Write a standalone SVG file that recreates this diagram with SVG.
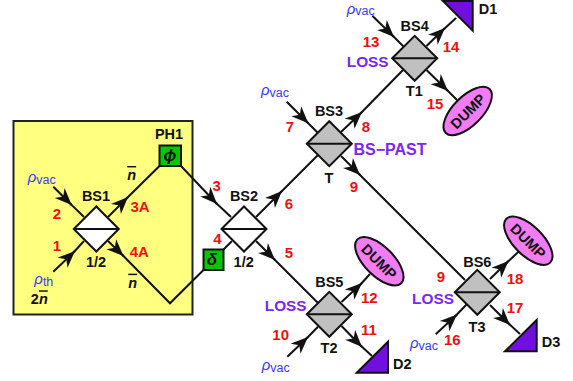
<svg xmlns="http://www.w3.org/2000/svg" width="573" height="381" viewBox="0 0 573 381">
<style>
text{font-family:"Liberation Sans",Arial,sans-serif;font-weight:700;font-size:14.5px;text-anchor:middle;fill:#111}
.r{fill:#f01010;font-size:15px}
.p{fill:#7a28f0;font-size:15.4px}
.v{fill:#3a3af0;font-weight:400;text-anchor:start;font-size:15px}
.b{font-size:12.5px}
.i{font-style:italic}
.g{font-size:17px}
.o{text-decoration:overline}
.c line,.c polyline{stroke:#111;stroke-width:2;fill:none}
.a{marker-end:url(#ah)}
.bw,.bg{stroke:#111;stroke-width:2;stroke-linejoin:miter}
.bw{fill:#fff}.bg{fill:#c0c0c0}
.m{stroke:#111;stroke-width:2}
.ph{fill:#00c800;stroke:#111;stroke-width:2}
.du{fill:#f27cf2;stroke:#111;stroke-width:2}
.de{fill:#7010e0;stroke:#111;stroke-width:2}
</style>
<defs>
<marker id="ah" markerUnits="userSpaceOnUse" markerWidth="20" markerHeight="16" refX="17" refY="8" orient="auto">
<path d="M0,1 L17,8 L0,15 L5,8 Z" fill="#111"/>
</marker>
<g id="dia"><path d="M-22.5,0 L0,-22.5 L22.5,0 L0,22.5 Z"/><line class="m" x1="-22.5" y1="0" x2="22.5" y2="0"/></g>
</defs>
<rect id="box" x="13.5" y="121" width="179" height="193.5" fill="#ffff80" stroke="#222" stroke-width="2"/>
<g id="connectors" class="c">
<line class="a" x1="53.3" y1="186.7" x2="71.7" y2="205"/><line x1="70" y1="203.4" x2="84" y2="217"/>
<line class="a" x1="53.3" y1="271.7" x2="75" y2="251"/><line x1="73" y1="253" x2="84" y2="241"/>
<line class="a" x1="108" y1="217" x2="128" y2="197"/><line x1="126" y1="199" x2="159.5" y2="166"/>
<line class="a" x1="108" y1="241" x2="123.5" y2="256"/><polyline points="122,254.5 170,303.3 203.5,270"/>
<line class="a" x1="181" y1="166" x2="217" y2="204"/><line x1="215" y1="202" x2="231" y2="217"/>
<line x1="223" y1="250" x2="232" y2="241"/>
<line class="a" x1="256" y1="217" x2="282" y2="191"/><line x1="280" y1="193" x2="318" y2="155"/>
<line class="a" x1="256" y1="241" x2="275" y2="260"/><line x1="273" y1="258" x2="318" y2="303"/>
<line class="a" x1="341" y1="132" x2="362" y2="112"/><line x1="360" y1="114" x2="403" y2="70"/>
<line class="a" x1="341" y1="156" x2="360" y2="175"/><line x1="358" y1="173" x2="465" y2="280"/>
<line class="a" x1="286.7" y1="101.7" x2="308.3" y2="123.3"/><line x1="306" y1="121" x2="318" y2="133"/>
<line class="a" x1="372.3" y1="15.7" x2="394" y2="37"/><line x1="392" y1="35" x2="404" y2="47"/>
<line class="a" x1="426.5" y1="46" x2="445" y2="28"/><line x1="443" y1="30" x2="456" y2="18"/>
<line class="a" x1="426.5" y1="70" x2="448" y2="91"/><line x1="446" y1="89" x2="457" y2="100"/>
<line class="a" x1="341.5" y1="302" x2="362" y2="283"/><line x1="360" y1="285" x2="370" y2="274"/>
<line class="a" x1="341.5" y1="326" x2="362" y2="347"/><line x1="360" y1="345" x2="372" y2="356"/>
<line class="a" x1="287.3" y1="356.7" x2="308" y2="337"/><line x1="306" y1="339" x2="318" y2="326.7"/>
<line class="a" x1="490" y1="279" x2="508.5" y2="261"/><line x1="506.5" y1="263" x2="519.3" y2="251"/>
<line class="a" x1="490" y1="305" x2="510" y2="325"/><line x1="508" y1="323" x2="520" y2="334"/>
<line class="a" x1="435.7" y1="334.3" x2="457" y2="314.5"/><line x1="455" y1="316.5" x2="467" y2="304"/>
</g>
<g id="BS1"><use href="#dia" class="bw" x="96.3" y="229"/><text x="96" y="201">BS1</text><text x="96" y="267">1/2</text></g>
<g id="BS2"><use href="#dia" class="bw" x="244" y="229"/><text x="244" y="201">BS2</text><text x="243.7" y="267">1/2</text></g>
<g id="BS3"><use href="#dia" class="bg" x="329.3" y="143.7"/><text x="329" y="115.7">BS3</text><text x="329" y="182.7">T</text></g>
<g id="BS4"><use href="#dia" class="bg" x="414.7" y="58.3"/><text x="414.7" y="30.7">BS4</text><text x="414.3" y="96">T1</text></g>
<g id="BS5"><use href="#dia" class="bg" x="329.3" y="314.3"/><text x="329.3" y="286.7">BS5</text><text x="329" y="352.7">T2</text></g>
<g id="BS6"><use href="#dia" class="bg" x="477.3" y="292.3"/><text x="477.3" y="266.7">BS6</text><text x="477" y="331.7">T3</text></g>
<g id="PH1"><rect class="ph" x="159.5" y="145.5" width="21.5" height="20.5"/><text x="169" y="139">PH1</text><text class="i g" x="170" y="161">ϕ</text></g>
<g id="delta"><rect class="ph" x="203.5" y="249.5" width="20" height="20.5"/><text class="i g" x="212" y="265">δ</text></g>
<g id="D1"><path class="de" d="M443,1 L472.7,1 L472.7,30.7 Z"/><text x="488" y="14">D1</text></g>
<g id="D2"><path class="de" d="M356.7,372.7 L388,372.7 L388,341.7 Z"/><text x="402.3" y="369">D2</text></g>
<g id="D3"><path class="de" d="M505,351.3 L536.7,351.3 L536.7,320 Z"/><text x="551" y="347.3">D3</text></g>
<g id="DUMP1"><ellipse class="du" cx="467.7" cy="111" rx="31" ry="14.5" transform="rotate(-45 467.7 111)"/><text transform="translate(467.7 111) rotate(-45)" y="5.5">DUMP</text></g>
<g id="DUMP2"><ellipse class="du" cx="379.3" cy="261.3" rx="31" ry="14.5" transform="rotate(45 379.3 261.3)"/><text transform="translate(379.3 261.3) rotate(45)" y="5.5">DUMP</text></g>
<g id="DUMP3"><ellipse class="du" cx="528.3" cy="240.7" rx="31" ry="14.5" transform="rotate(45 528.3 240.7)"/><text transform="translate(528.3 240.7) rotate(45)" y="5.5">DUMP</text></g>
<g id="labels">
<text class="r" x="57" y="219">2</text><text class="r" x="57" y="250.7">1</text><text class="r" x="140" y="211.7">3A</text><text class="r" x="139.3" y="256.7">4A</text><text class="r" x="216.7" y="191">3</text><text class="r" x="217.3" y="244">4</text>
<text class="r" x="289" y="209.3">6</text><text class="r" x="289" y="257.7">5</text><text class="r" x="290" y="132.3">7</text><text class="r" x="366" y="132.3">8</text><text class="r" x="354" y="192.3">9</text>
<text class="r" x="371" y="46.7">13</text><text class="r" x="451" y="51.7">14</text><text class="r" x="435" y="108.7">15</text>
<text class="r" x="369.3" y="302.7">12</text><text class="r" x="369" y="335">11</text><text class="r" x="280.7" y="340">10</text>
<text class="r" x="441" y="281.7">9</text><text class="r" x="515" y="284.3">18</text><text class="r" x="515" y="312.7">17</text><text class="r" x="452.3" y="345.3">16</text>
<text class="p" x="367.7" y="66.7">LOSS</text><text class="p" x="390" y="155" style="font-size:16px">BS−PAST</text><text class="p" x="285.7" y="310.7">LOSS</text><text class="p" x="433" y="304.3">LOSS</text>
<text class="i" x="131.7" y="180"><tspan class="o">n</tspan></text><text class="i" x="132.7" y="287.7"><tspan class="o">n</tspan></text><text x="39.3" y="304.3">2<tspan class="i o">n</tspan></text>
<text class="v" x="27.7" y="182"><tspan class="i">ρ</tspan><tspan class="b" dy="2">vac</tspan></text>
<text class="v" x="34.3" y="284"><tspan class="i">ρ</tspan><tspan class="b" dy="2">th</tspan></text>
<text class="v" x="261" y="95"><tspan class="i">ρ</tspan><tspan class="b" dy="2">vac</tspan></text>
<text class="v" x="346.7" y="14"><tspan class="i">ρ</tspan><tspan class="b" dy="0.5">vac</tspan></text>
<text class="v" x="261.7" y="370"><tspan class="i">ρ</tspan><tspan class="b" dy="2">vac</tspan></text>
<text class="v" x="410" y="348"><tspan class="i">ρ</tspan><tspan class="b" dy="2">vac</tspan></text>
</g>
</svg>
